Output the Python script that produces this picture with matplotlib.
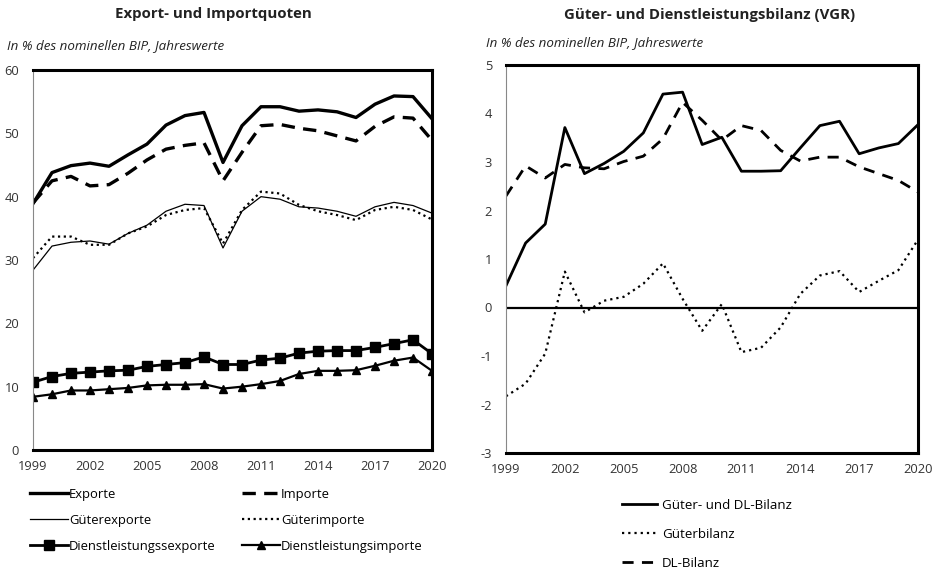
import matplotlib
matplotlib.use("Agg")
import matplotlib.pyplot as plt

plt.rcParams['font.family'] = ['Open Sans', 'DejaVu Sans']
plt.rcParams['axes.unicode_minus'] = False

years = list(range(1999, 2021))

exporte = [38.9, 43.8, 44.9, 45.3, 44.8, 46.6, 48.3, 51.3, 52.8, 53.3, 45.4,
           51.2, 54.2, 54.2, 53.5, 53.7, 53.4, 52.5, 54.6, 55.9, 55.8, 52.3]
importe = [39.0, 42.5, 43.2, 41.7, 41.9, 43.7, 45.8, 47.5, 48.1, 48.5, 42.5,
           47.0, 51.2, 51.4, 50.8, 50.4, 49.6, 48.8, 51.1, 52.6, 52.4, 48.9]
gueterexporte = [28.4, 32.2, 32.8, 33.0, 32.5, 34.2, 35.5, 37.7, 38.8, 38.6, 31.9,
                 37.7, 40.0, 39.6, 38.4, 38.2, 37.7, 36.9, 38.4, 39.1, 38.6, 37.4]
gueterimporte = [30.3, 33.7, 33.7, 32.4, 32.4, 34.2, 35.3, 37.1, 37.9, 38.2, 32.6,
                 37.9, 40.8, 40.5, 38.7, 37.7, 37.1, 36.3, 37.9, 38.4, 37.9, 36.4]
dl_exporte = [10.7, 11.6, 12.1, 12.3, 12.5, 12.6, 13.2, 13.5, 13.8, 14.7, 13.5,
              13.5, 14.2, 14.5, 15.3, 15.6, 15.7, 15.7, 16.2, 16.8, 17.4, 15.2]
dl_importe = [8.4, 8.8, 9.4, 9.4, 9.6, 9.8, 10.2, 10.3, 10.3, 10.4, 9.7,
              10.0, 10.4, 10.9, 12.0, 12.5, 12.5, 12.6, 13.3, 14.1, 14.6, 12.5]

bilanz_gesamt = [0.45, 1.33, 1.72, 3.71, 2.76, 2.97, 3.22, 3.60, 4.40, 4.44, 3.36,
                 3.51, 2.81, 2.81, 2.82, 3.29, 3.75, 3.84, 3.17, 3.29, 3.38, 3.77]
gueterbilanz = [-1.83, -1.57, -0.95, 0.74, -0.10, 0.14, 0.22, 0.49, 0.91, 0.18, -0.48,
                0.07, -0.92, -0.83, -0.41, 0.28, 0.66, 0.75, 0.32, 0.55, 0.77, 1.40]
dl_bilanz = [2.30, 2.92, 2.67, 2.95, 2.88, 2.86, 3.01, 3.12, 3.48, 4.23, 3.86,
             3.45, 3.75, 3.65, 3.24, 3.02, 3.10, 3.10, 2.90, 2.76, 2.62, 2.38]

xticks = [1999, 2002, 2005, 2008, 2011, 2014, 2017, 2020]
left_yticks = [0, 10, 20, 30, 40, 50, 60]
right_yticks = [-3, -2, -1, 0, 1, 2, 3, 4, 5]

W, H = 938, 569
fig = plt.figure(figsize=(W / 100, H / 100), dpi=100)

def px_axes(x0, x1, ytop, ybot):
    return fig.add_axes([x0 / W, (H - ybot) / H, (x1 - x0) / W, (ybot - ytop) / H])

def style_axes(ax):
    for s in ['top', 'right', 'bottom']:
        ax.spines[s].set_linewidth(2.2)
        ax.spines[s].set_color('black')
    ax.spines['left'].set_linewidth(0.8)
    ax.spines['left'].set_color('#888888')
    ax.tick_params(axis='y', length=0, labelsize=9.3, colors='#333333', pad=10)
    ax.tick_params(axis='x', length=0, labelsize=9.3, colors='#333333', pad=7)
    ax.set_xticks(xticks)
    ax.set_xticklabels([str(x) for x in xticks])
    ax.set_xlim(1999, 2020)

# Left chart
ax1 = px_axes(33, 432, 70, 450)
l1, = ax1.plot(years, exporte, color='black', lw=2.4, label='Exporte')
l2, = ax1.plot(years, importe, color='black', lw=2.4, ls=(0, (4, 2.5)), label='Importe')
l3, = ax1.plot(years, gueterexporte, color='black', lw=0.9, label='Güterexporte')
l4, = ax1.plot(years, gueterimporte, color='black', lw=1.6, ls=(0, (1, 1.6)), label='Güterimporte')
l5, = ax1.plot(years, dl_exporte, color='black', lw=2.0, marker='s', ms=7, label='Dienstleistungssexporte')
l6, = ax1.plot(years, dl_importe, color='black', lw=1.6, marker='^', ms=5.5, label='Dienstleistungsimporte')
ax1.set_ylim(0, 60)
ax1.set_yticks(left_yticks)
style_axes(ax1)
ax1.legend(handles=[l1, l3, l5, l2, l4, l6], ncol=2, frameon=False,
           loc='upper left', bbox_to_anchor=(30 / W, 1 - 488 / H),
           bbox_transform=fig.transFigure, fontsize=9.4, handlelength=2.9,
           handletextpad=0.1, columnspacing=2.0, labelspacing=0.98,
           borderaxespad=0, borderpad=0)

fig.text(213 / W, 1 - 14 / H, 'Export- und Importquoten', ha='center', va='center',
         fontsize=10.8, fontweight='bold', color='#222222')
fig.text(7 / W, 1 - 46 / H, 'In % des nominellen BIP, Jahreswerte', ha='left', va='center',
         fontsize=9.6, style='italic', color='#222222')

# Right chart
ax2 = px_axes(506, 918, 65, 453)
ax2.axhline(0, color='black', lw=1.6, zorder=1)
r1, = ax2.plot(years, bilanz_gesamt, color='black', lw=2.0, label='Güter- und DL-Bilanz')
r2, = ax2.plot(years, gueterbilanz, color='black', lw=1.6, ls=(0, (1, 1.8)), label='Güterbilanz')
r3, = ax2.plot(years, dl_bilanz, color='black', lw=2.0, ls=(0, (4, 3)), label='DL-Bilanz')
ax2.set_ylim(-3, 5)
ax2.set_yticks(right_yticks)
style_axes(ax2)
ax2.legend(handles=[r1, r2, r3], ncol=1, frameon=False,
           loc='upper left', bbox_to_anchor=(622 / W, 1 - 499 / H),
           bbox_transform=fig.transFigure, fontsize=9.6, handlelength=2.6,
           handletextpad=0.4, labelspacing=1.2,
           borderaxespad=0, borderpad=0)

fig.text(710 / W, 1 - 15 / H, 'Güter- und Dienstleistungsbilanz (VGR)', ha='center', va='center',
         fontsize=10.8, fontweight='bold', color='#222222')
fig.text(486 / W, 1 - 43 / H, 'In % des nominellen BIP, Jahreswerte', ha='left', va='center',
         fontsize=9.6, style='italic', color='#222222')

fig.savefig('out.png', dpi=100, facecolor='white')
